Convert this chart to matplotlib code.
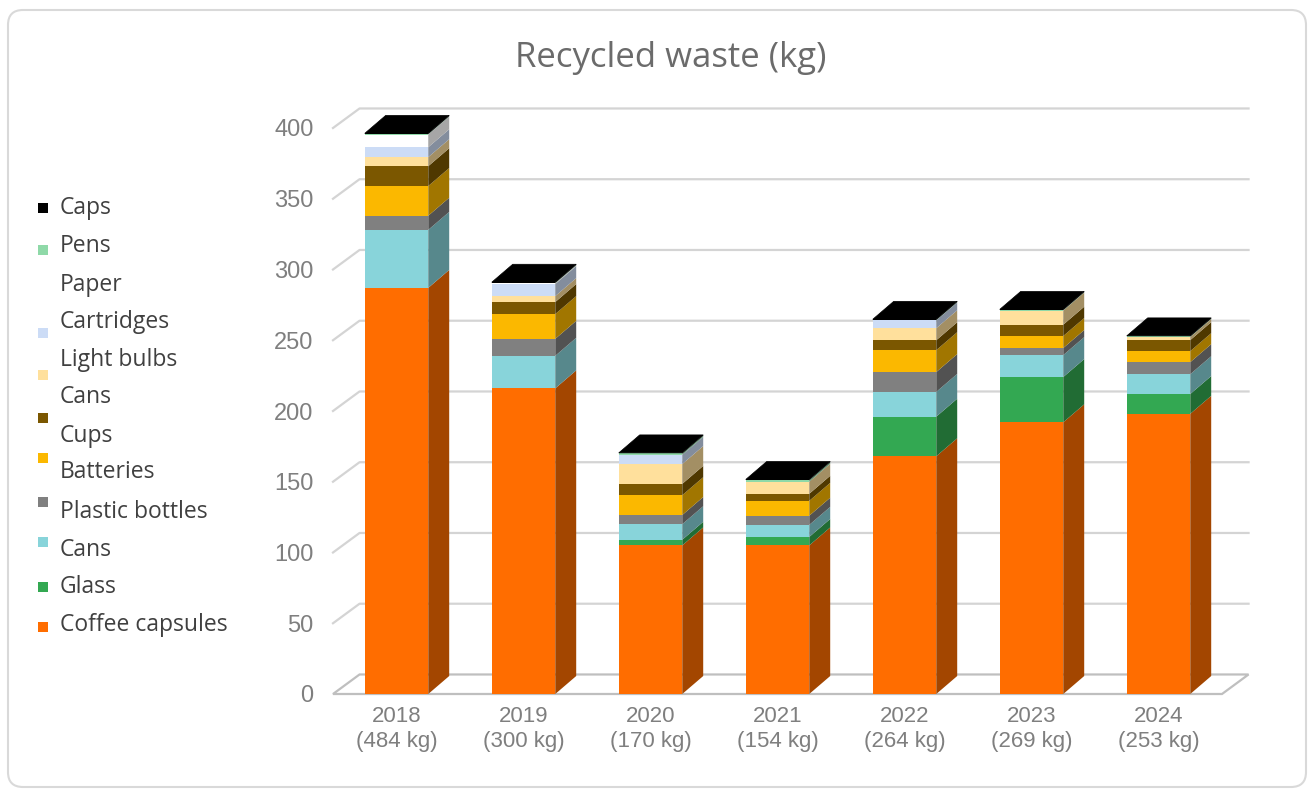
import numpy as np
import matplotlib.pyplot as plt
import matplotlib.colors as mcolors
from matplotlib.patches import Polygon, Rectangle, FancyBboxPatch

# data (kg)
years = ['2018', '2019', '2020', '2021', '2022', '2023', '2024']
year_totals = [484, 300, 170, 154, 264, 269, 253]

coffee_capsules = [287, 216, 105, 105, 168, 192, 198]
glass = [0, 0, 4, 6, 28, 32, 14]
cans = [41, 23, 11, 8.5, 17.5, 15.5, 14]
plastic_bottles = [10, 12, 6.5, 6.5, 14, 5, 8.5]
batteries = [21, 17.5, 14, 10.5, 15.5, 8.5, 7.8]
cups = [14, 8.5, 8, 5, 7, 8, 7.8]
light_bulbs = [6.4, 4.2, 14, 8.5, 8.5, 10, 2.2]
cartridges = [7, 8.5, 6.5, 0, 5.5, 0, 0]
paper = [9, 0.5, 0, 0, 0, 0, 0]
pens = [0.4, 0.4, 1, 1.2, 0.4, 0.4, 0.4]
caps = [0.4, 0.4, 0.4, 0.4, 0.4, 0.4, 0.4]

stack = [coffee_capsules, glass, cans, plastic_bottles, batteries, cups,
         light_bulbs, cartridges, paper, pens, caps]
stack_colors = ['#FF6D00', '#33A852', '#88D4DA', '#808080', '#FBB800', '#7B5700',
                '#FFE09C', '#CCDCF6', '#FFFFFF', '#8FD9A8', '#000000']

legend_labels = ['Caps', 'Pens', 'Paper', 'Cartridges', 'Light bulbs', 'Cans', 'Cups',
                 'Batteries', 'Plastic bottles', 'Cans', 'Glass', 'Coffee capsules']
legend_marker_colors = ['#000000', '#8FD9A8', '#FFFFFF', '#CCDCF6', '#FFE09C', '#7B5700',
                        '#FBB800', '#808080', '#88D4DA', '#33A852', '#FF6D00']

W, H = 1313, 791
fig = plt.figure(figsize=(W / 100, H / 100), dpi=100)

# outer rounded border
fig.add_artist(FancyBboxPatch((0.08, 0.04), 12.98, 7.77, boxstyle='round,pad=0,rounding_size=0.15',
                              transform=fig.dpi_scale_trans, facecolor='none',
                              edgecolor='#D9D9D9', lw=1.5))

ax = fig.add_axes([333 / W, (H - 694) / H, 889 / W, 566 / H])
ax.set_xlim(-0.5, 6.5)
ax.set_ylim(0, 400)
for s in ax.spines.values():
    s.set_visible(False)

# fake 3d depth (data units)
dxg, dyg = 0.209, 13.8
dxb, dyb = 0.165, 12.7
bw = 0.5

for v in range(50, 401, 50):
    ax.plot([-0.5, -0.5 + dxg, 6.5 + dxg], [v, v + dyg, v + dyg], color='#D4D4D4',
            lw=1.6, clip_on=False, zorder=0)

ax.add_patch(Polygon([(-0.5, 0), (6.5, 0), (6.5 + dxg, dyg), (-0.5 + dxg, dyg)],
                     closed=True, facecolor='white', edgecolor='#BFBFBF', lw=1.6,
                     clip_on=False, zorder=1))

x = np.arange(len(years))
bottom = np.zeros(len(years))
for vals, col in zip(stack, stack_colors):
    vals = np.array(vals, dtype=float)
    ax.bar(x, vals, bw, bottom=bottom, color=col, linewidth=0, zorder=3)
    side = tuple(np.array(mcolors.to_rgb(col)) * 0.64)
    if col == '#FFFFFF':
        side = '#A6A6A6'
    for xi, b, v in zip(x, bottom, vals):
        if v <= 0:
            continue
        r = xi + bw / 2
        ax.add_patch(Polygon([(r, b), (r + dxb, b + dyb), (r + dxb, b + v + dyb), (r, b + v)],
                             closed=True, facecolor=side, lw=0, zorder=3, clip_on=False))
    bottom = bottom + vals

# top faces take the colour of the top series
for xi, t in zip(x, bottom):
    l, r = xi - bw / 2, xi + bw / 2
    ax.add_patch(Polygon([(l, t), (r, t), (r + dxb, t + dyb), (l + dxb, t + dyb)],
                         closed=True, facecolor=stack_colors[-1], edgecolor=stack_colors[-1],
                         lw=0.5, zorder=4, clip_on=False))

ax.set_yticks(range(0, 401, 50))
ax.set_xticks(x)
ax.set_xticklabels([f'{y}\n({t} kg)' for y, t in zip(years, year_totals)])
ax.tick_params(axis='y', length=0, pad=14, labelsize=17, labelcolor='#7F7F7F')
ax.tick_params(axis='x', length=0, pad=9, labelsize=16, labelcolor='#7F7F7F')
for lab in ax.get_xticklabels() + ax.get_yticklabels():
    lab.set_family('Liberation Sans')

fig.text(671 / W, 1 - 58 / H, 'Recycled waste (kg)', ha='center', va='center',
         fontsize=25, color='#6B6B6B', family='Open Sans')

# legend drawn by hand, Excel spaces markers and labels differently
label_y = [208, 246, 285, 322, 360, 397, 436, 472, 512, 550, 587, 625]
marker_y = [208, 250, 292, 333, 375, 418, 458, 502, 542, 587, 627]
for lab, ly in zip(legend_labels, label_y):
    fig.text(60 / W, 1 - ly / H, lab, ha='left', va='center', fontsize=16.5,
             color='#404040', family='Open Sans')
for col, my in zip(legend_marker_colors, marker_y):
    fig.add_artist(Rectangle(((43 - 5) / W, 1 - (my + 5) / H), 10 / W, 10 / H,
                             transform=fig.transFigure, facecolor=col, lw=0))

fig.savefig('out.png', dpi=100)
